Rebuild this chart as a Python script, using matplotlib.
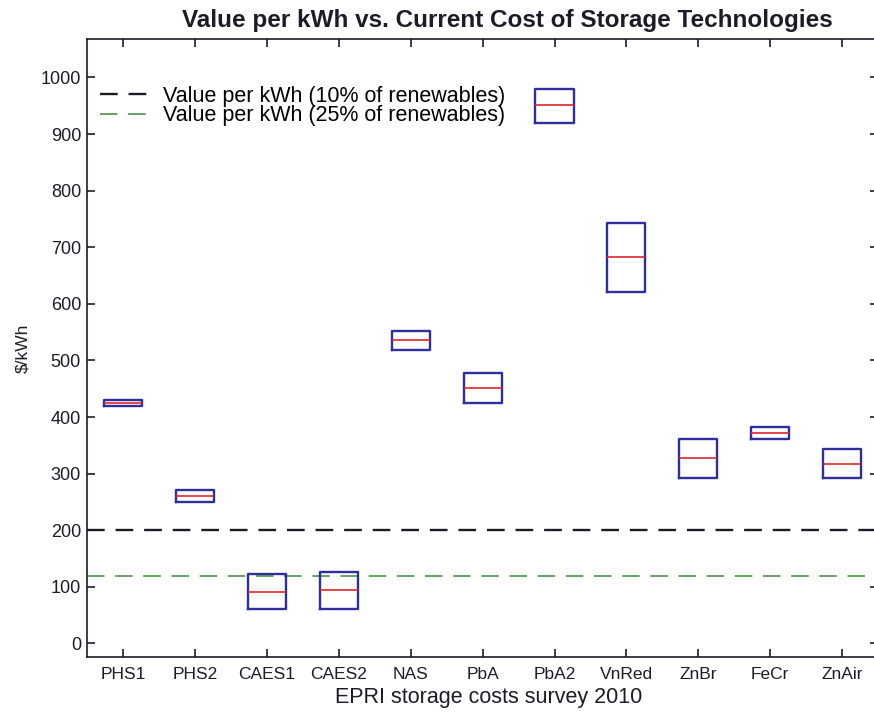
import numpy as np
import matplotlib
matplotlib.use("Agg")
import matplotlib.pyplot as plt

plt.rcParams['font.family'] = ['Liberation Sans', 'DejaVu Sans']

INK = "#1c1c26"
BOX = "#2e2e9c"
MED = "#e3242b"
GREEN = "#4a9446"

# EPRI 2010 storage cost ranges ($/kWh): low, typical, high
techs = ['PHS1', 'PHS2', 'CAES1', 'CAES2', 'NAS', 'PbA', 'PbA2',
         'VnRed', 'ZnBr', 'FeCr', 'ZnAir']
cost_low = [419, 250, 61, 61, 519, 425, 920, 621, 292, 361, 292]
cost_mid = [424, 260, 91, 94, 536, 451, 951, 682, 327, 372, 317]
cost_high = [430, 271, 122, 126, 552, 477, 980, 742, 362, 383, 343]

value_10 = 200   # value per kWh at 10% renewables
value_25 = 119   # value per kWh at 25% renewables

fig = plt.figure(figsize=(8.74, 7.22), dpi=100)
ax = fig.add_axes([87.3/874, 1 - 657/722, (878 - 87.3)/874, (657 - 39)/722])

x = np.arange(1, len(techs) + 1)
stats = [dict(q1=lo, med=md, q3=hi, whislo=lo, whishi=hi, fliers=[], label=t)
         for t, lo, md, hi in zip(techs, cost_low, cost_mid, cost_high)]
ax.bxp(stats, positions=x, widths=0.53, showfliers=False, manage_ticks=False,
       boxprops=dict(color=BOX, lw=1.7),
       medianprops=dict(color=MED, lw=1.2),
       whiskerprops=dict(lw=0), capprops=dict(lw=0))

ax.axhline(value_10, color=INK, lw=1.7, ls=(0, (7.5, 4.6)),
           label="Value per kWh (10% of renewables)", zorder=1)
ax.axhline(value_25, color=GREEN, lw=1.2, ls=(0, (10.5, 6.4)),
           label="Value per kWh (25% of renewables)", zorder=1)

ax.set_xlim(0.5, 11.5)
ax.set_ylim(-24, 1068)
ax.set_xticks(x)
ax.set_xticklabels(techs)
ax.set_yticks(np.arange(0, 1001, 100))

for s in ax.spines.values():
    s.set_linewidth(1.2)
    s.set_color(INK)
ax.tick_params(axis='both', direction='in', length=6, width=1.2, color=INK,
               top=True, right=True, labelsize=12.5, labelcolor=INK)
ax.tick_params(axis='y', labelsize=13)
ax.tick_params(axis='x', pad=7)
ax.tick_params(axis='y', pad=4.5)

ax.set_xlabel("EPRI storage costs survey 2010", fontsize=15.5, color=INK)
ax.xaxis.label.set_va('center')
ax.xaxis.set_label_coords(0.508, -0.0655)
ax.set_ylabel("$/kWh", fontsize=12.5, color=INK)
ax.yaxis.label.set_va('center')
ax.yaxis.set_label_coords(-0.082, 0.5)

fig.text(507/874, 1 - 21/722, "Value per kWh vs. Current Cost of Storage Technologies",
         fontsize=17.5, fontweight='bold', color=INK, ha='center', va='center')

ax.legend(loc='upper left', bbox_to_anchor=(100/874, 1 - 86/722),
          bbox_transform=fig.transFigure, frameon=False, fontsize=15.5,
          borderpad=0, borderaxespad=0, handlelength=2.28, handletextpad=0.65,
          labelspacing=-0.07)

fig.savefig("out.png", dpi=100)
